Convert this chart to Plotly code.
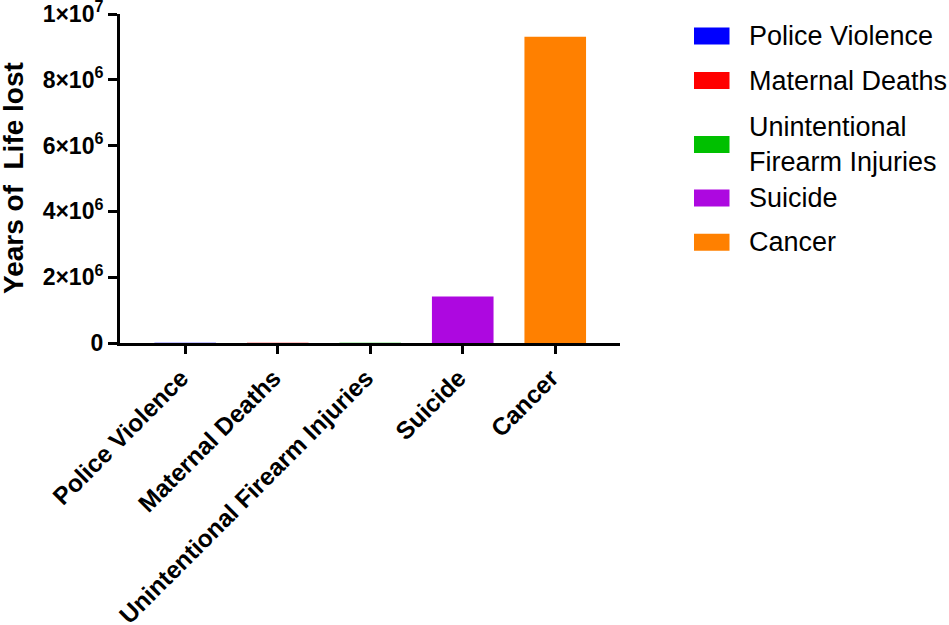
import plotly.graph_objects as go

# categories and values (years of life lost)
categories = ["Police Violence", "Maternal Deaths", "Unintentional Firearm Injuries", "Suicide", "Cancer"]
years_lost = [9000, 7000, 4000, 1410000, 9310000]
bar_colors = ["#0000FF", "#FF0000", "#00C000", "#AD08E0", "#FF8000"]
legend_labels = ["Police Violence", "Maternal Deaths", "Unintentional<br>Firearm Injuries", "Suicide", "Cancer"]

y_tickvals = [0, 2e6, 4e6, 6e6, 8e6, 1e7]
y_ticktext = ["0", "2×10<sup>6</sup>", "4×10<sup>6</sup>", "6×10<sup>6</sup>", "8×10<sup>6</sup>", "1×10<sup>7</sup>"]

FONT = "Liberation Sans, Arial, sans-serif"

# plot area in pixels (window 949x625)
L, R, T, B = 120, 620, 14, 343
def px(x):
    return (x - L) / (R - L)
def py(y):
    return (B - y) / (B - T)

def nearly_opaque(hexcol):
    # alpha just below 1 makes plotly round bar edges to whole pixels, so the
    # tiny bars vanish into the axis like in the original
    r, g, b = (int(hexcol[i:i + 2], 16) for i in (1, 3, 5))
    return "rgba(%d,%d,%d,0.999)" % (r, g, b)

fig = go.Figure()
fig.add_trace(go.Bar(
    x=categories, y=years_lost,
    marker=dict(color=[nearly_opaque(c) for c in bar_colors], line=dict(width=0)),
    showlegend=False, hoverinfo="x+y",
))

# legend drawn by hand so the swatches are wide rectangles like the original
legend_rows_y = [36, 80.5, 144.5, 198, 242.3]
shapes, annotations = [], []
for lab, col, yc in zip(legend_labels, bar_colors, legend_rows_y):
    shapes.append(dict(type="rect", xref="paper", yref="paper",
                       x0=px(694), x1=px(729.5), y0=py(yc + 8.5), y1=py(yc - 8.5),
                       fillcolor=col, line=dict(width=0)))
    annotations.append(dict(text=lab, xref="paper", yref="paper",
                            x=px(747), y=py(yc), xanchor="left", yanchor="middle",
                            showarrow=False, align="left",
                            font=dict(family=FONT, size=27, color="black")))

annotations.append(dict(text="Years of\u00a0 Life lost", xref="paper", yref="paper",
                        x=px(13.5), y=0.5, xanchor="center", yanchor="middle",
                        textangle=-90, showarrow=False,
                        font=dict(family=FONT, size=28, color="black", weight="bold")))

fig.update_layout(
    width=949, height=625,
    margin=dict(l=L, r=949 - R, t=T, b=625 - B),
    paper_bgcolor="white", plot_bgcolor="white",
    bargap=0.334,
    shapes=shapes, annotations=annotations,
    font=dict(family=FONT, color="black"),
)
fig.update_xaxes(
    range=[-0.705, 4.7], showline=True, linecolor="black", linewidth=3,
    ticks="outside", ticklen=8, tickwidth=3, tickcolor="black",
    tickangle=-45, showgrid=False, zeroline=False, automargin=False,
    ticklabelshift=-4,
    tickfont=dict(family=FONT, size=24.5, color="black", weight="bold"),
)
fig.update_yaxes(
    range=[0, 1e7], tickvals=y_tickvals, ticktext=y_ticktext,
    showline=True, linecolor="black", linewidth=3,
    ticks="outside", ticklen=9, tickwidth=3, tickcolor="black",
    showgrid=False, zeroline=False, ticklabeloverflow="allow", automargin=False,
    tickfont=dict(family=FONT, size=23, color="black", weight="bold"),
)

fig.write_html("out.html", config={"displayModeBar": False},
               post_script="document.body.style.margin='0';")
